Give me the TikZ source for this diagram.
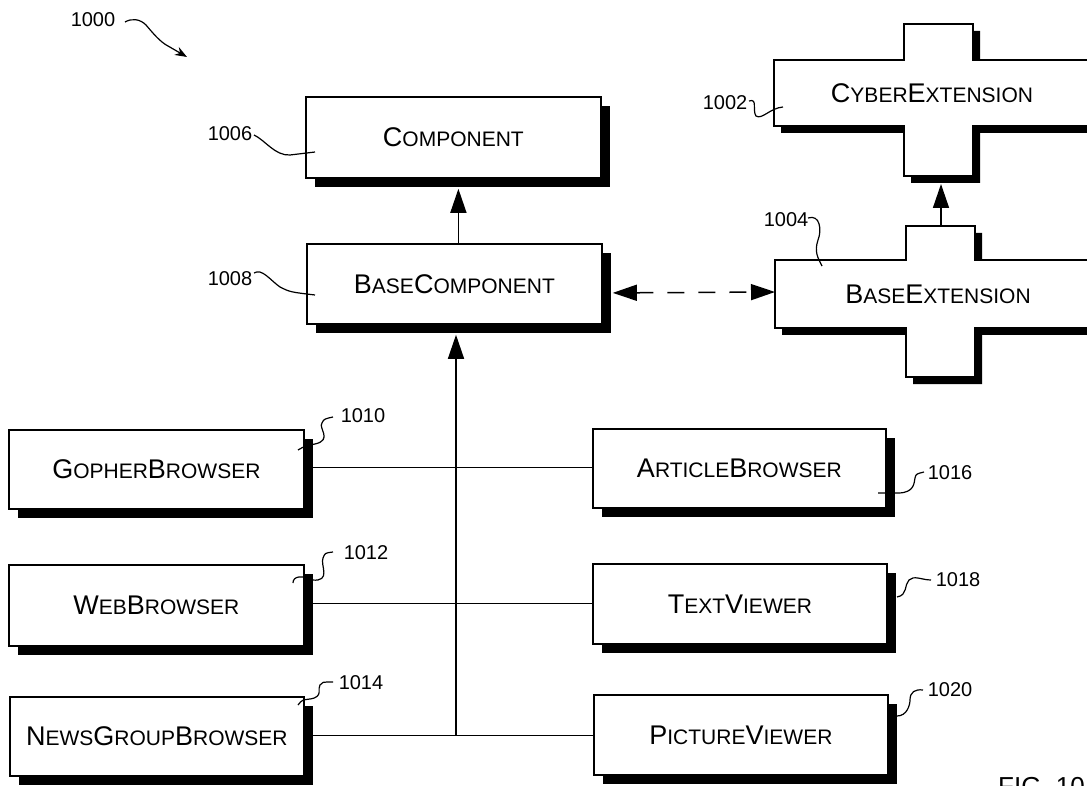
\documentclass[tikz,border=0pt]{standalone}
\usepackage{fontspec}
\setmainfont{Liberation Sans}
\newfontfamily\boxfont{Liberation Sans}
\newfontfamily\numfont{Liberation Sans}
\usetikzlibrary{shadows,arrows.meta,calc}
\newcommand\Sm[1]{{\fontsize{21}{21}\selectfont #1}}
\begin{document}
\begin{tikzpicture}[x=1pt,y=-1pt,
  cls/.style={draw, fill=white, line width=1.8pt, anchor=north west, inner sep=0pt,
    font=\boxfont\fontsize{27}{27}\selectfont,
    general shadow={fill=black, shadow xshift=9.5pt, shadow yshift=-9.5pt}},
  xtext/.style={font=\boxfont\fontsize{27}{27}\selectfont, inner sep=0pt},
  conn/.style={line width=1.5pt},
  arr/.style={conn, -{Triangle[length=24pt,width=16pt]}},
  sq/.style={line width=1.2pt},
  num/.style={font=\numfont\fontsize{20}{20}\selectfont, inner sep=0pt}
]
\useasboundingbox (0,0) rectangle (1087,786);

% class boxes
\node[cls, minimum width=295pt, minimum height=81pt] (comp) at (305,96) {C\Sm{OMPONENT}};
\node[cls, minimum width=295pt, minimum height=80pt] (basecomp) at (306,243) {B\Sm{ASE}C\Sm{OMPONENT}};
\node[cls, minimum width=295pt, minimum height=79pt] (gopher) at (8,429) {G\Sm{OPHER}B\Sm{ROWSER}};
\node[cls, minimum width=295pt, minimum height=81pt] (web) at (8,564) {W\Sm{EB}B\Sm{ROWSER}};
\node[cls, minimum width=294pt, minimum height=79pt] (news) at (9,696) {N\Sm{EWS}G\Sm{ROUP}B\Sm{ROWSER}};
\node[cls, minimum width=293pt, minimum height=79pt] (article) at (592,428) {A\Sm{RTICLE}B\Sm{ROWSER}};
\node[cls, minimum width=294pt, minimum height=80pt] (textv) at (592,563) {T\Sm{EXT}V\Sm{IEWER}};
\node[cls, minimum width=294pt, minimum height=80pt] (picture) at (593,694) {P\Sm{ICTURE}V\Sm{IEWER}};

% extension crosses
\begin{scope}[shift={(7,7)}]
\fill[black] (904,24) -- (973,24) -- (973,60) -- (1100,60) -- (1100,126) -- (973,126) -- (973,176) -- (904,176) -- (904,126) -- (774,126) -- (774,60) -- (904,60) -- cycle;
\fill[black] (906,226) -- (975,226) -- (975,260) -- (1100,260) -- (1100,328) -- (975,328) -- (975,377) -- (906,377) -- (906,328) -- (775,328) -- (775,260) -- (906,260) -- cycle;
\end{scope}
\draw[fill=white, line width=1.8pt] (904,24) -- (973,24) -- (973,60) -- (1100,60) -- (1100,126) -- (973,126) -- (973,176) -- (904,176) -- (904,126) -- (774,126) -- (774,60) -- (904,60) -- cycle;
\draw[fill=white, line width=1.8pt] (906,226) -- (975,226) -- (975,260) -- (1100,260) -- (1100,328) -- (975,328) -- (975,377) -- (906,377) -- (906,328) -- (775,328) -- (775,260) -- (906,260) -- cycle;
\node[xtext] (cyber) at (932,93) {C\Sm{YBER}E\Sm{XTENSION}};
\node[xtext] (baseext) at (938,294) {B\Sm{ASE}E\Sm{XTENSION}};

% connectors
\coordinate (bxtop) at (941,226);
\coordinate (cxbot) at (941,184);
\coordinate (bxW) at (775,292);
\coordinate (bcE) at ($(basecomp.east)+(10,9)$);
\coordinate (bcN) at ($(basecomp.north)+(4,0)$);
\coordinate (bcS) at ($(basecomp.south west)+(150,10)$);
\draw[arr] (bcN) -- ($(bcN |- comp.south)+(0,10)$);
\draw[arr] (bxtop) -- (cxbot);
\draw[conn, dash pattern=on 17pt off 14pt, {Triangle[length=24pt,width=16pt]}-{Triangle[length=24pt,width=16pt]}] (bcE) -- (bxW);
\draw[conn] ($(gopher.east)+(0,-2)$) -- ($(gopher.east -| article.west)+(0,-2)$);
\draw[conn] ($(web.east)+(0,-2)$) -- ($(web.east -| textv.west)+(0,-2)$);
\draw[conn] ($(news.east)+(0,-1)$) -- ($(news.east -| picture.west)+(0,-1)$);
\coordinate (junc) at ($(news.east -| bcS)+(0,-1)$);
\draw[arr] (junc) -- (bcS);

% reference labels
\node[num] (l1000) at (93,20) {1000};
\draw[sq, -{Stealth[length=12pt,width=9pt]}] (125,22) .. controls (132,18) and (140,19) .. (146,25) .. controls (152,32) and (160,42) .. (168,46) -- (187,57);
\node[num] (l1006) at (230,134) {1006};
\draw[sq] (254,135) .. controls (265,140) and (275,156) .. (290,155) -- (315,152);
\node[num] (l1008) at (230,279) {1008};
\draw[sq] (254,273) .. controls (262,268) and (270,280) .. (280,287) .. controls (290,292) .. (315,295);
\node[num] (l1002) at (725,103) {1002};
\draw[sq] (749,101) .. controls (758,98) and (752,110) .. (756,116) .. controls (762,120) and (770,108) .. (783,107);
\node[num] (l1004) at (786,220) {1004};
\draw[sq] (808,218) .. controls (820,214) and (822,230) .. (818,240) .. controls (814,252) and (818,258) .. (822,266);
\node[num] (l1010) at (363,416) {1010};
\draw[sq] (298,450) .. controls (305,446) .. (315,444) .. controls (333,440) and (318,428) .. (322,423) .. controls (324,419) .. (333,417);
\node[num] (l1012) at (366,553) {1012};
\draw[sq] (293,583) .. controls (293,576) and (302,575) .. (312,580) .. controls (332,582) and (320,565) .. (323,558) .. controls (325,553) .. (333,552);
\node[num] (l1014) at (361,683) {1014};
\draw[sq] (298,705) .. controls (302,700) .. (310,699) .. controls (324,697) and (317,688) .. (320,685) .. controls (322,682) .. (333,682);
\node[num] (l1016) at (950,473) {1016};
\draw[sq] (878,493) -- (898,493) .. controls (915,493) and (914,482) .. (915,478) .. controls (916,474) .. (924,472);
\node[num] (l1018) at (958,580) {1018};
\draw[sq] (897,597) .. controls (908,595) and (904,585) .. (909,580) .. controls (914,575) and (922,580) .. (931,580);
\node[num] (l1020) at (950,690) {1020};
\draw[sq] (897,716) .. controls (907,716) and (910,705) .. (910,700) .. controls (910,692) and (915,689) .. (923,690);

\node[anchor=north west, inner sep=0pt, font=\numfont\fontsize{26}{26}\selectfont] (fig) at (998,777) {FIG. 10};
\end{tikzpicture}
\end{document}
